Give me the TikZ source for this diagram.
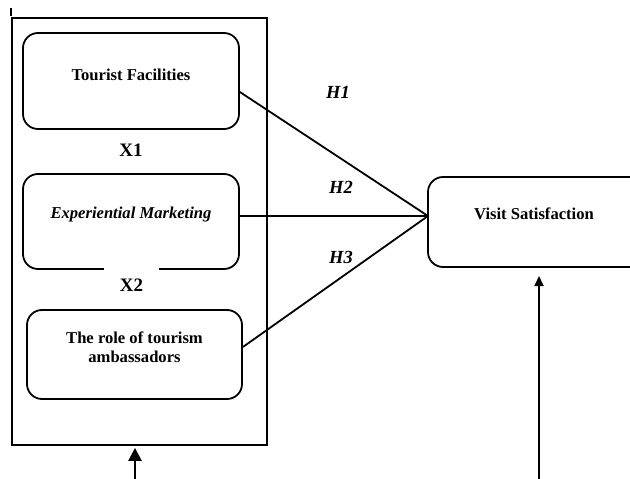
\documentclass[tikz,border=0pt]{standalone}
\usepackage{fontspec}
\setmainfont{Liberation Serif}
\usetikzlibrary{arrows.meta}
\begin{document}
\begin{tikzpicture}[x=1pt,y=-1pt,
  line width=1.8pt,
  box/.style={draw,rounded corners=15pt,minimum width=216pt,minimum height=95pt,inner sep=0pt},
  txt/.style={font=\fontsize{16.6}{18.5}\selectfont\bfseries,align=center},
  xlab/.style={font=\fontsize{19}{21}\selectfont\bfseries},
  hlab/.style={font=\fontsize{18.5}{21}\selectfont\bfseries\itshape},
  conn/.style={line width=1.8pt},
  arr/.style={line width=1.8pt,-{Triangle[length=10pt,width=9pt]}},
  arrbig/.style={line width=2.6pt,-{Triangle[length=13pt,width=13pt]}}]
\useasboundingbox (0,0) rectangle (630,479);
% outer frame
\node[draw,minimum width=255pt,minimum height=427pt,inner sep=0pt] (outer) at (139.5,231.5) {};
\draw ([yshift=0.9pt]outer.north west) -- ++(0,-8);
% boxes
\node[box,minimum height=96pt] (b1) at (131,81) {};
\node[txt] (t1) at (131,75) {Tourist Facilities};
\node[xlab] (x1) at (131,150) {X1};
\node[box] (b2) at (131,221.5) {};
\node[txt,font=\fontsize{16.6}{18.5}\selectfont\bfseries\itshape] (t2) at (131,215) {Experiential Marketing};
\node[xlab,fill=white,minimum width=55pt,minimum height=34pt,inner sep=0pt] (x2) at (131.5,285) {X2};
\node[box,minimum width=215pt,minimum height=89pt] (b3) at (134.5,354.5) {};
\node[txt] (t3) at (134.5,347) {The role of tourism\\ambassadors};
% dependent
\node[box,minimum width=240pt,minimum height=90pt] (vs) at (548,222) {};
\node[txt] (tv) at (534,214) {Visit Satisfaction};
\coordinate (hub) at (428,216);
% connectors
\draw[conn] (b1.east |- 0,92) -- (hub);
\draw[conn] (b2.east |- 0,216) -- (hub);
\draw[conn] (b3.east |- 0,347) -- (hub);
\node[hlab] (h1) at (338,92) {H1};
\node[hlab] (h2) at (341,187) {H2};
\node[hlab] (h3) at (341,257) {H3};
% arrows
\coordinate (a1) at (135,479);
\draw[arrbig] (a1) -- ([yshift=-2pt]outer.south -| a1);
\coordinate (a2) at (539,479);
\draw[arr] (a2) -- (539,276);
\end{tikzpicture}
\end{document}
